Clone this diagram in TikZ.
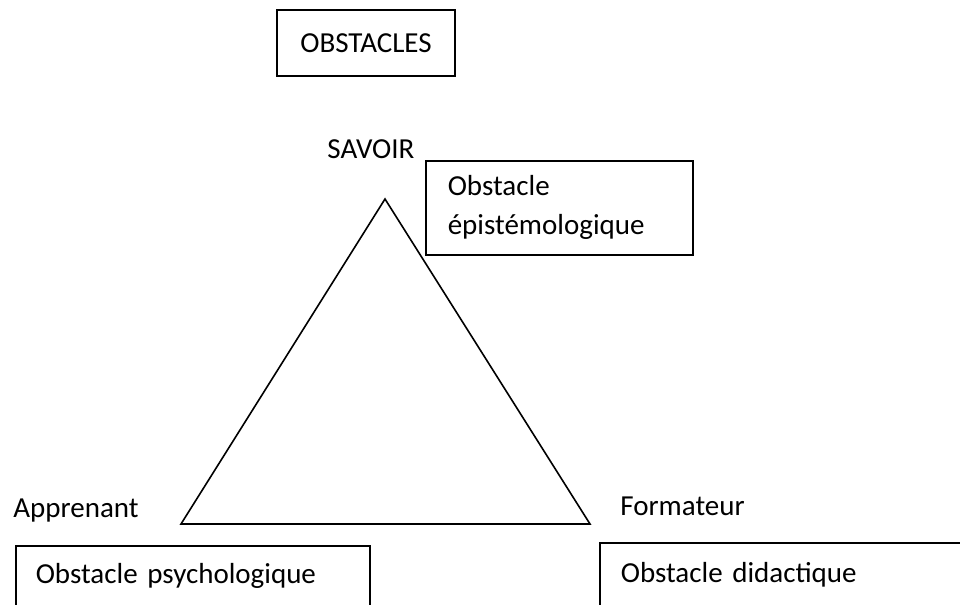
\documentclass[tikz,border=0pt]{standalone}
\usepackage{fontspec}
\setmainfont{Carlito}
\usepackage{tikz}
\usetikzlibrary{positioning}
\newcommand\policetexte{\fontsize{14.5}{19.5}\selectfont}
\tikzset{
    trait/.style = {line width=0.8pt},
    cadre/.style = {draw, trait, inner ysep=0pt, font=\policetexte},
    bloc/.style = {cadre, anchor=north west, align=left, minimum height=#1},
    texte/.style = {font=\policetexte, inner sep=0pt, anchor=base west},
}
\begin{document}
\begin{tikzpicture}[x=0.5pt,y=-0.5pt]
    \useasboundingbox (0,0) rectangle (960,605);
    \clip (0,0) rectangle (960,605);
    \node[cadre, minimum width=89pt, minimum height=33pt] (obs) at (366,43) {OBSTACLES};
    % le triangle
    \coordinate (sommet) at (385,199);
    \coordinate (gauche) at (181,524);
    \coordinate (droite) at (590,524);
    \draw[trait] (sommet) -- (gauche) -- (droite) -- cycle;
    \node[texte] (savoir) at (327,158) {SAVOIR};
    \node[texte] (apprenant) at (13,517) {Apprenant};
    \node[texte] (formateur) at (620,515) {Formateur};
    % les obstacles
    \node[bloc=47pt, text width=111.5pt, inner xsep=11pt] (epi) at (425,160) {Obstacle\\épistémologique};
    \node[bloc=30.5pt, text width=157pt, inner xsep=10pt] (psy) at (15,545) {Obstacle psychologique};
    \node[bloc=32pt, text width=167pt, inner xsep=10.5pt] (dida) at (599,542) {Obstacle didactique};
\end{tikzpicture}
\end{document}
